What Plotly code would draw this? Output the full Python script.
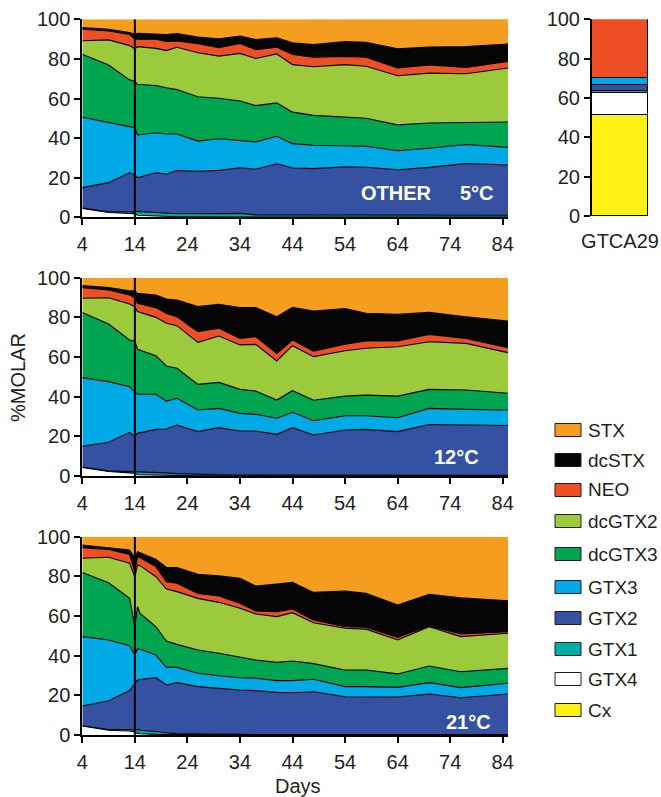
import plotly.graph_objects as go

# ---------------- data ----------------
SPECIES_STACK = ["GTX4", "GTX1", "GTX2", "GTX3", "dcGTX3", "dcGTX2", "NEO", "dcSTX", "STX"]
LEGEND_ORDER = ["STX", "dcSTX", "NEO", "dcGTX2", "dcGTX3", "GTX3", "GTX2", "GTX1", "GTX4", "Cx"]

DAYS_A = [4, 9, 13, 14, 14.5, 18, 20, 22, 26, 30, 34, 37, 41, 44, 48, 54, 58, 64, 70, 77, 85]
DAYS_21 = [4, 9, 13, 14, 14.5, 15, 18, 20, 22, 26, 30, 34, 37, 41, 44, 48, 54, 58, 64, 70, 76, 85]

# 5 C  (% molar)
GTX4_5 = [4.5, 2.4, 2.0, 1.8, 1.0, 0.6, 0.4, 0.3, 0.2, 0.2, 0.2, 0.1, 0.1, 0.1, 0.1, 0.1, 0.1, 0.1, 0.1, 0.1, 0.1]
GTX1_5 = [0.2, 0.4, 0.8, 0.8, 2.0, 1.9, 1.6, 1.5, 1.6, 1.6, 1.8, 1.1, 1.1, 1.2, 1.2, 1.2, 1.1, 0.9, 0.9, 0.9, 0.9]
GTX2_5 = [10.3, 14.7, 19.7, 18.8, 17.0, 20.0, 19.9, 21.8, 21.4, 21.9, 23.0, 23.1, 25.8, 23.6, 23.3, 24.2, 24.1, 23.0, 24.2, 26.2, 25.4]
GTX3_5 = [35.5, 30.6, 23.3, 23.9, 21.6, 20.2, 20.2, 18.5, 15.3, 16.0, 14.0, 13.8, 13.9, 12.3, 11.8, 10.6, 10.6, 9.6, 9.7, 9.6, 8.9]
DCGTX3_5 = [31.8, 28.8, 23.6, 23.4, 25.6, 23.9, 23.3, 22.4, 22.4, 20.4, 19.7, 18.3, 16.9, 15.9, 15.1, 14.6, 14.1, 13.1, 12.7, 11.1, 12.8]
DCGTX2_5 = [6.9, 12.7, 17.3, 16.3, 19.0, 18.7, 18.8, 21.4, 22.2, 21.3, 24.1, 23.8, 24.7, 24.0, 24.5, 26.4, 26.3, 24.8, 25.2, 24.6, 27.3]
NEO_5 = [5.8, 4.5, 5.7, 4.9, 3.7, 4.6, 4.6, 3.2, 4.6, 4.3, 5.0, 4.5, 3.4, 5.1, 4.8, 4.2, 4.5, 3.9, 4.2, 3.2, 3.3]
DCSTX_5 = [0.8, 0.9, 0.9, 2.5, 3.0, 2.8, 3.5, 3.7, 3.3, 4.5, 3.7, 5.1, 4.7, 5.9, 6.4, 7.5, 7.6, 9.7, 9.0, 10.6, 8.8]
STX_5 = [4.2, 5.0, 6.7, 7.6, 7.1, 7.6, 7.9, 7.4, 9.3, 10.1, 8.8, 10.4, 9.6, 12.1, 13.0, 11.4, 11.8, 15.0, 14.1, 13.8, 12.6]

# 12 C
GTX4_12 = [4.3, 2.3, 1.6, 1.3, 0.6, 0.4, 0.3, 0.2, 0.1, 0.1, 0.1, 0.1, 0.1, 0.1, 0.1, 0.1, 0.1, 0.1, 0.1, 0.1, 0.1]
GTX1_12 = [0.2, 0.3, 0.6, 0.8, 1.8, 1.6, 1.3, 1.0, 0.7, 0.5, 0.4, 0.4, 0.3, 0.3, 0.3, 0.3, 0.3, 0.3, 0.3, 0.3, 0.3]
GTX2_12 = [10.5, 14.4, 19.8, 17.7, 19.1, 21.5, 22.1, 24.5, 21.6, 23.8, 22.2, 22.2, 20.6, 24.0, 20.3, 22.8, 23.1, 22.0, 25.6, 25.5, 25.1]
GTX3_12 = [34.6, 30.6, 23.0, 22.7, 19.7, 17.7, 14.1, 13.5, 10.9, 9.7, 8.9, 8.4, 8.1, 7.7, 7.2, 7.2, 6.9, 7.0, 8.1, 7.7, 7.8]
DCGTX3_12 = [32.9, 29.0, 23.6, 25.6, 22.7, 19.5, 17.7, 15.1, 12.9, 13.1, 12.1, 11.8, 9.2, 10.9, 10.3, 9.9, 10.4, 10.9, 9.6, 9.8, 8.4]
DCGTX2_12 = [7.1, 13.3, 18.1, 17.3, 19.0, 19.3, 21.5, 21.5, 21.2, 23.4, 22.4, 23.5, 19.7, 22.7, 22.0, 22.9, 23.6, 24.9, 24.0, 23.5, 20.5]
NEO_12 = [5.4, 3.9, 4.6, 4.5, 4.2, 4.9, 5.0, 4.5, 5.4, 3.9, 3.3, 3.9, 3.8, 2.9, 2.8, 3.2, 3.7, 2.9, 3.7, 2.5, 2.5]
DCSTX_12 = [1.0, 1.2, 2.1, 3.5, 5.0, 6.4, 7.2, 8.4, 12.6, 12.1, 15.6, 14.7, 18.5, 16.4, 20.2, 18.1, 13.9, 13.4, 11.1, 10.9, 13.5]
STX_12 = [4.0, 5.0, 6.6, 6.6, 7.9, 8.7, 10.8, 11.3, 14.6, 13.4, 15.0, 15.0, 19.7, 15.0, 16.8, 15.5, 18.0, 18.5, 17.5, 19.7, 21.8]

# 21 C
GTX4_21 = [4.5, 2.4, 2.0, 1.5, 0.8, 0.6, 0.3, 0.2, 0.1, 0.1, 0.1, 0.1, 0.1, 0.1, 0.1, 0.1, 0.1, 0.1, 0.1, 0.1, 0.1, 0.1]
GTX1_21 = [0.2, 0.4, 0.8, 0.8, 2.0, 1.8, 1.5, 0.8, 0.6, 0.3, 0.2, 0.2, 0.1, 0.1, 0.1, 0.1, 0.1, 0.1, 0.1, 0.1, 0.1, 0.1]
GTX2_21 = [9.9, 14.5, 19.6, 23.7, 24.9, 25.6, 27.1, 24.2, 25.7, 24.0, 23.2, 22.4, 22.2, 21.3, 21.1, 21.6, 19.1, 19.1, 19.0, 20.5, 18.6, 20.5]
GTX3_21 = [35.0, 30.6, 22.6, 14.3, 15.7, 15.2, 11.4, 8.9, 7.7, 6.7, 6.4, 6.2, 6.2, 5.9, 6.1, 6.3, 5.1, 5.1, 4.8, 5.7, 5.1, 5.4]
DCGTX3_21 = [32.4, 28.9, 23.9, 14.3, 21.3, 18.1, 14.3, 13.3, 11.6, 11.8, 11.3, 10.3, 9.2, 9.2, 9.9, 7.9, 8.4, 8.4, 6.8, 8.4, 8.0, 7.5]
DCGTX2_21 = [7.1, 12.8, 17.7, 25.2, 21.0, 24.1, 25.2, 26.2, 26.6, 26.0, 25.7, 24.7, 23.2, 23.1, 24.4, 20.6, 21.0, 20.6, 17.1, 19.8, 17.7, 17.7]
NEO_21 = [5.4, 4.0, 4.5, 2.6, 4.2, 4.0, 5.1, 3.7, 4.2, 2.5, 3.2, 2.5, 1.5, 2.5, 1.8, 1.4, 0.8, 0.9, 1.3, 0.4, 1.3, 0.8]
DCSTX_21 = [1.3, 1.0, 2.2, 6.7, 2.5, 2.5, 3.7, 7.2, 7.9, 9.6, 10.2, 12.6, 12.6, 13.9, 13.5, 13.9, 18.0, 17.1, 16.3, 15.9, 18.3, 15.6]
STX_21 = [4.2, 5.4, 6.7, 10.9, 7.6, 8.1, 11.4, 15.5, 15.6, 19.0, 19.7, 21.0, 24.9, 23.9, 23.0, 28.1, 27.4, 28.6, 34.5, 29.1, 30.8, 32.3]

# GTCA29 strain composition
BAR_SPECIES = ["Cx", "GTX4", "GTX1", "GTX2", "GTX3", "NEO"]
BAR_GTCA29 = [51.0, 11.5, 1.0, 3.0, 3.5, 30.0]
BAR_LABEL = "GTCA29"

X_TICKS = [4, 14, 24, 34, 44, 54, 64, 74, 84]
Y_TICKS = [0, 20, 40, 60, 80, 100]
TRANSFER_DAY = 14
PANEL_LABELS = ["5°C", "12°C", "21°C"]

COLORS = {
    "STX": "#F59D1F", "dcSTX": "#050505", "NEO": "#EE4E24", "dcGTX2": "#9BCA3C",
    "dcGTX3": "#00A551", "GTX3": "#00AAE6", "GTX2": "#3551A2", "GTX1": "#00B0A8",
    "GTX4": "#FFFFFF", "Cx": "#FFF212",
}

panels = [
    (DAYS_A, [GTX4_5, GTX1_5, GTX2_5, GTX3_5, DCGTX3_5, DCGTX2_5, NEO_5, DCSTX_5, STX_5]),
    (DAYS_A, [GTX4_12, GTX1_12, GTX2_12, GTX3_12, DCGTX3_12, DCGTX2_12, NEO_12, DCSTX_12, STX_12]),
    (DAYS_21, [GTX4_21, GTX1_21, GTX2_21, GTX3_21, DCGTX3_21, DCGTX2_21, NEO_21, DCSTX_21, STX_21]),
]

# ---------------- layout helpers ----------------
W, H = 661, 797
FONT = "Liberation Sans, Arial, Helvetica, sans-serif"
TXT = "#231f20"
FS = 20
FS_LEG = 19


def fx(px):
    return px / W


def fy(py):
    return 1 - py / H


fig = go.Figure()

# panel pixel boxes: (top, bottom)
panel_px = [(19.3, 217.3), (277.7, 476.0), (536.7, 735.0)]
X_LEFT, X_RIGHT = 82.3, 508.0

for i, (days, series) in enumerate(panels):
    ax = "" if i == 0 else str(i + 1)
    for name, vals in zip(SPECIES_STACK, series):
        is_top = name == "STX"
        fig.add_trace(go.Scatter(
            x=days, y=vals, name=name, mode="lines",
            stackgroup=f"p{i}", fillcolor=COLORS[name],
            line=dict(color=COLORS[name] if is_top else "#000000", width=0 if is_top else 1.1),
            xaxis="x" + ax, yaxis="y" + ax, showlegend=False, hoverinfo="x+y+name",
        ))

# bar panel
for name, val in zip(BAR_SPECIES, BAR_GTCA29):
    fig.add_trace(go.Bar(
        x=[BAR_LABEL], y=[val], name=name, marker=dict(color=COLORS[name], line=dict(color="#000000", width=1.2)),
        xaxis="x4", yaxis="y4", showlegend=False,
    ))

axis_common = dict(
    showgrid=False, zeroline=False, showline=True, linecolor="#000000", linewidth=2,
    ticks="outside", ticklen=6, tickwidth=2, tickcolor="#000000",
    tickfont=dict(family=FONT, size=FS, color=TXT), automargin=False,
)

layout = dict(
    width=W, height=H, margin=dict(l=0, r=0, t=0, b=0),
    paper_bgcolor="white", plot_bgcolor="white", showlegend=False,
    barmode="stack", bargap=0, font=dict(family=FONT, color=TXT),
)

for i, (top, bot) in enumerate(panel_px):
    ax = "" if i == 0 else str(i + 1)
    layout["xaxis" + ax] = dict(axis_common, domain=[fx(X_LEFT), fx(X_RIGHT)], range=[4, 85],
                                tickvals=X_TICKS, anchor="y" + ax, ticklabelstandoff=2)
    layout["yaxis" + ax] = dict(axis_common, domain=[fy(bot), fy(top)], range=[0, 100],
                                tickvals=Y_TICKS, anchor="x" + ax, ticklabelstandoff=0)

layout["xaxis4"] = dict(domain=[fx(592), fx(648)], anchor="y4", showgrid=False, zeroline=False,
                        showline=False, ticks="outside", ticklen=7, tickcolor="rgba(0,0,0,0)",
                        tickfont=dict(family=FONT, size=FS, color=TXT), automargin=False,
                        range=[-0.5, 0.5])
layout["yaxis4"] = dict(axis_common, domain=[fy(216.0), fy(19.3)], range=[0, 100],
                        tickvals=Y_TICKS, anchor="x4", ticklabelstandoff=0)

fig.update_layout(**layout)

# transfer lines at day 14
shapes = []
for i in range(3):
    ax = "" if i == 0 else str(i + 1)
    shapes.append(dict(type="line", xref="x" + ax, yref="y" + ax, x0=TRANSFER_DAY, x1=TRANSFER_DAY,
                       y0=0, y1=100, line=dict(color="#000000", width=2)))

annotations = []
# panel labels
lab_pos = [(477, 193), (456, 457), (468, 722)]
for (px, py), lab in zip(lab_pos, PANEL_LABELS):
    annotations.append(dict(x=fx(px), y=fy(py), xref="paper", yref="paper", text=f"<b>{lab}</b>",
                            showarrow=False, font=dict(family=FONT, size=FS, color="white"),
                            xanchor="center", yanchor="middle"))
annotations.append(dict(x=fx(396), y=fy(193), xref="paper", yref="paper", text="<b>OTHER</b>",
                        showarrow=False, font=dict(family=FONT, size=FS, color="white"),
                        xanchor="center", yanchor="middle"))
# axis titles
annotations.append(dict(x=fx(18), y=fy(378), xref="paper", yref="paper", text="%MOLAR", textangle=-90,
                        showarrow=False, font=dict(family=FONT, size=FS, color=TXT),
                        xanchor="center", yanchor="middle"))
annotations.append(dict(x=fx(298), y=fy(786), xref="paper", yref="paper", text="Days",
                        showarrow=False, font=dict(family=FONT, size=FS, color=TXT),
                        xanchor="center", yanchor="middle"))

# manual legend
leg_y = [430, 460, 490, 521, 554, 587, 618, 649, 679, 710]
for name, py in zip(LEGEND_ORDER, leg_y):
    shapes.append(dict(type="rect", xref="paper", yref="paper", x0=fx(555), x1=fx(581),
                       y0=fy(py + 6.5), y1=fy(py - 6.5), fillcolor=COLORS[name],
                       line=dict(color="#231f20", width=1)))
    annotations.append(dict(x=fx(586), y=fy(py), xref="paper", yref="paper", text=name,
                            showarrow=False, font=dict(family=FONT, size=FS_LEG, color=TXT),
                            xanchor="left", yanchor="middle"))

fig.update_layout(shapes=shapes, annotations=annotations)

fig.write_html("out.html", config={"displayModeBar": False},
               post_script="document.body.style.margin='0';document.body.style.padding='0';document.body.style.overflow='hidden';")
